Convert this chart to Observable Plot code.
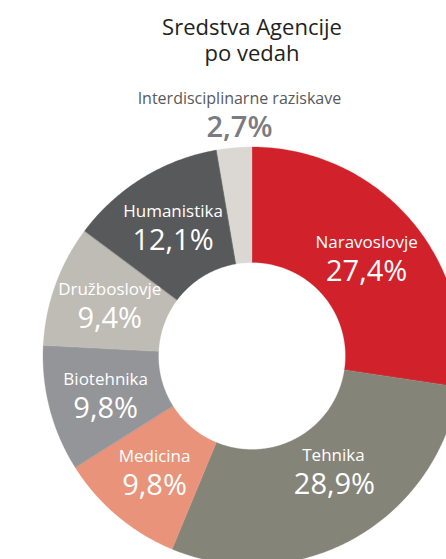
<!DOCTYPE html>
<html>
<head>
<meta charset="utf-8">
<script src="https://cdn.jsdelivr.net/npm/d3@7"></script>
<script src="https://cdn.jsdelivr.net/npm/@observablehq/plot@0.6"></script>
<style>
  html, body { margin: 0; padding: 0; background: #fff; overflow: hidden; width: 446px; height: 559px; }
  #title { height: 80px; box-sizing: border-box; padding-top: 14px; text-align: center; padding-left: 58px;
    font-family: "Open Sans", sans-serif; font-size: 22px; line-height: 25.5px; color: #231f20; }
  #chart svg { overflow: hidden; display: block; }
</style>
</head>
<body>
<div id="title">Sredstva Agencije<br>po vedah</div>
<div id="chart"></div>
<script>
const categories = ["Naravoslovje", "Tehnika", "Medicina", "Biotehnika", "Družboslovje", "Humanistika", "Interdisciplinarne raziskave"];
const shares = [27.4, 28.9, 9.8, 9.8, 9.4, 12.1, 2.7];
const colors = ["#d1222b", "#858479", "#e8937a", "#949599", "#bfbcb5", "#58595b", "#dbd8d3"];

const W = 446, H = 479;
const cx = 251.5, cy = 275.5;
const rIn = 93.5, rOut = 209;

const data = categories.map((name, i) => ({name, share: shares[i]}));
const arcs = d3.pie().sort(null).value(d => d.share)(data);
const slices = data.map((d, i) => {
  const a0 = arcs[i].startAngle, a1 = arcs[i].endAngle;
  return {...d, a0, a1, mid: (a0 + a1) / 2, label: d3.format(".1f")(d.share).replace(".", ",") + "%"};
});

// polygon outlines of the donut slices
const pts = [];
for (const s of slices) {
  const n = Math.max(8, Math.ceil((s.a1 - s.a0) / 0.01));
  for (let k = 0; k <= n; k++) {
    const t = s.a0 + (s.a1 - s.a0) * k / n;
    pts.push({name: s.name, x: rOut * Math.sin(t), y: rOut * Math.cos(t)});
  }
  for (let k = n; k >= 0; k--) {
    const t = s.a0 + (s.a1 - s.a0) * k / n;
    pts.push({name: s.name, x: rIn * Math.sin(t), y: rIn * Math.cos(t)});
  }
}

const rMid = (rIn + rOut) / 2;
const inside = slices.slice(0, 6).map(s => ({...s, x: rMid * Math.sin(s.mid), y: rMid * Math.cos(s.mid)}));
const outside = slices.slice(6).map(s => ({...s, x: 243 * Math.sin(s.mid), y: 243 * Math.cos(s.mid)}));
const regular = inside.filter(d => d.name !== "Tehnika");
const tehnika = inside.filter(d => d.name === "Tehnika");

const font = "Open Sans, sans-serif";
const plot = Plot.plot({
  width: W, height: H,
  margin: 0,
  style: {overflow: "hidden", fontFamily: font},
  x: {domain: [-cx, W - cx], range: [0, W], axis: null},
  y: {domain: [-(H - cy), cy], range: [H, 0], axis: null},
  color: {domain: categories, range: colors},
  marks: [
    Plot.line(pts, {x: "x", y: "y", z: "name", fill: "name", stroke: "name", strokeWidth: 0.3, curve: "linear-closed"}),
    Plot.text(regular, {x: "x", y: "y", text: "name", dy: -15, fill: "white", fontSize: 17, fontFamily: font}),
    Plot.text(regular, {x: "x", y: "y", text: "label", dy: 14, fill: "white", fontSize: 29, fontFamily: font}),
    Plot.text(tehnika, {x: "x", y: "y", text: "name", dx: 7, dy: -32, fill: "white", fontSize: 17, fontFamily: font}),
    Plot.text(tehnika, {x: "x", y: "y", text: "label", dx: 8, dy: -3, fill: "white", fontSize: 29, fontFamily: font}),
    Plot.text(outside, {x: "x", y: "y", text: "name", dx: 8, dy: -15, fill: "#58595b", fontSize: 16, fontFamily: font}),
    Plot.text(outside, {x: "x", y: "y", text: "label", dx: 8, dy: 14, fill: "#7b7c80", fontSize: 29, fontWeight: 600, fontFamily: font})
  ]
});
document.getElementById("chart").appendChild(plot);
</script>
</body>
</html>
